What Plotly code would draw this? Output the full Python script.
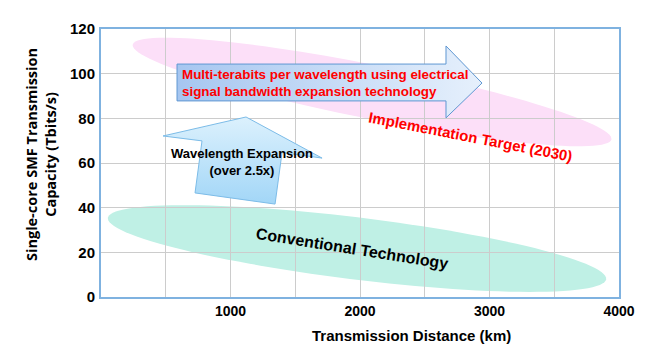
import numpy as np
import plotly.graph_objects as go

# ---- axes / data ----
x_range = [0, 4000]
y_range = [0, 120]
x_grid_vals = [0, 500, 1000, 1500, 2000, 2500, 3000, 3500, 4000]
x_tick_text = ["", "", "1000", "", "2000", "", "3000", "", "4000"]
y_tick_vals = [0, 20, 40, 60, 80, 100, 120]

# decorative regions (data coords, centre) with pixel semi-axes & rotation
pink_center = (2093, 91.8)
teal_center = (1977, 21.7)

# arrows (data coordinates)
right_arrow_x = [587, 2664, 2664, 2942, 2664, 2664, 587, 587]
right_arrow_y = [104.3, 104.3, 112.4, 95.8, 80.2, 87.8, 87.8, 104.3]
up_arrow_x = [1120, 1707, 1398, 1344, 726, 780, 479, 1120]
up_arrow_y = [80.6, 62.2, 64.7, 41.6, 46.6, 69.9, 72.1, 80.6]

W, H = 672, 348
ML, MR, MT, MB = 101, 53, 29, 51
pw = W - ML - MR
ph = H - MT - MB
sx = pw / (x_range[1] - x_range[0])  # px per x unit
sy = ph / (y_range[1] - y_range[0])  # px per y unit


def ellipse_path(center, a_px, b_px, ang_deg, n=120):
    t = np.linspace(0, 2 * np.pi, n)
    ang = np.deg2rad(ang_deg)
    ex = a_px * np.cos(t)
    ey = b_px * np.sin(t)
    rx = ex * np.cos(ang) - ey * np.sin(ang)
    ry = ex * np.sin(ang) + ey * np.cos(ang)
    xs = center[0] + rx / sx
    ys = center[1] - ry / sy
    return "M " + " L ".join(f"{x:.2f},{y:.3f}" for x, y in zip(xs, ys)) + " Z"


fig = go.Figure()

shapes = [
    dict(type="path", path=ellipse_path(pink_center, 244, 27, 11.2), xref="x", yref="y",
         fillcolor="#fcdff8", line=dict(width=0), layer="below"),
    dict(type="path", path=ellipse_path(teal_center, 251, 31, 7.0), xref="x", yref="y",
         fillcolor="#bff0e5", line=dict(width=0), layer="below"),
]

fig.add_trace(go.Scatter(
    x=right_arrow_x, y=right_arrow_y, mode="lines", fill="toself",
    line=dict(color="#5f97d2", width=1),
    fillgradient=dict(type="horizontal", colorscale=[[0, "#a6c6f0"], [1, "#e6f0fc"]]),
    hoverinfo="skip", showlegend=False))
fig.add_trace(go.Scatter(
    x=up_arrow_x, y=up_arrow_y, mode="lines", fill="toself",
    line=dict(color="#7cbce8", width=1),
    fillgradient=dict(type="vertical", colorscale=[[0, "#a2d6f7"], [1, "#dcf1fd"]]),
    hoverinfo="skip", showlegend=False))


def px2x(p):
    return (p - ML) / sx


def px2y(p):
    return (H - MB - p) / sy


narrow = "Liberation Sans, Arial, sans-serif"
annotations = [
    dict(x=px2x(180), y=px2y(82.5), xref="x", yref="y", xanchor="left", yanchor="middle",
         align="left", showarrow=False,
         text="<b>Multi-terabits per wavelength using electrical<br>signal bandwidth expansion technology</b>",
         font=dict(family=narrow, size=13.4, color="#ff0000")),
    dict(x=px2x(242), y=px2y(162), xref="x", yref="y", xanchor="center", yanchor="middle",
         showarrow=False, text="<b>Wavelength Expansion<br>(over 2.5x)</b>",
         font=dict(family=narrow, size=13, color="#000000")),
    dict(x=px2x(470), y=px2y(136), xref="x", yref="y", xanchor="center", yanchor="middle",
         showarrow=False, textangle=11, text="<b>Implementation Target (2030)</b>",
         font=dict(family=narrow, size=15, color="#ff0000")),
    dict(x=px2x(352), y=px2y(248), xref="x", yref="y", xanchor="center", yanchor="middle",
         showarrow=False, textangle=9, text="<b>Conventional Technology</b>",
         font=dict(family=narrow, size=16, color="#000000")),
    dict(x=(411 - ML) / pw, y=(H - MB - 335) / ph, xref="paper", yref="paper",
         xanchor="center", yanchor="middle", showarrow=False,
         text="<b>Transmission Distance (km)</b>",
         font=dict(family=narrow, size=15, color="#000000")),
    dict(x=(41 - ML) / pw, y=(H - MB - 155) / ph, xref="paper", yref="paper",
         xanchor="center", yanchor="middle", showarrow=False, textangle=-90,
         text="<b>Single-core SMF Transmission<br>Capacity (Tbits/s)</b>",
         font=dict(family="Open Sans, sans-serif", size=14.5, color="#000000")),
]

fig.update_layout(
    width=W, height=H,
    margin=dict(l=ML, r=MR, t=MT, b=MB, pad=0),
    paper_bgcolor="white", plot_bgcolor="white",
    shapes=shapes, annotations=annotations,
    showlegend=False,
)
fig.update_xaxes(range=x_range, tickmode="array", tickvals=x_grid_vals, ticktext=x_tick_text,
                 showgrid=True, gridcolor="#cccccc", gridwidth=1,
                 showline=True, linecolor="#7fb2e0", linewidth=2, mirror=True,
                 zeroline=False, ticks="",
                 tickfont=dict(family="Liberation Sans, Arial, sans-serif", size=14, color="black",
                               weight="bold"))
fig.update_yaxes(range=y_range, tickmode="array", tickvals=y_tick_vals,
                 showgrid=True, gridcolor="#cccccc", gridwidth=1,
                 showline=True, linecolor="#7fb2e0", linewidth=2, mirror=True,
                 zeroline=False, ticks="", ticklabelstandoff=1,
                 tickfont=dict(family="Liberation Sans, Arial, sans-serif", size=15, color="black",
                               weight="bold"))

fig.write_html("out.html")
